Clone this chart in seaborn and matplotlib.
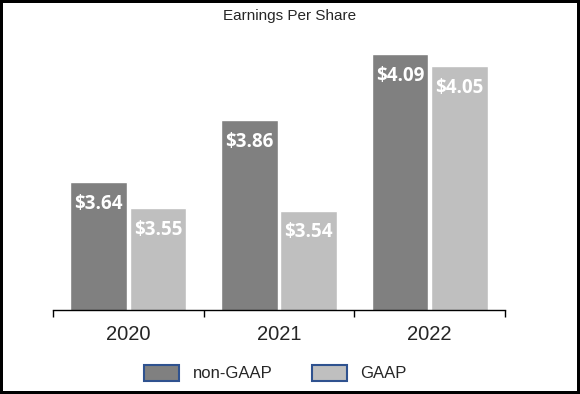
import matplotlib
matplotlib.use("Agg")
import matplotlib.pyplot as plt
import seaborn as sns
import pandas as pd
from matplotlib.patches import Patch

years = ["2020", "2021", "2022"]
series = ["non-GAAP", "GAAP"]
non_gaap = [3.64, 3.86, 4.09]
gaap = [3.55, 3.54, 4.05]
labels_non_gaap = ["$3.64", "$3.86", "$4.09"]
labels_gaap = ["$3.55", "$3.54", "$4.05"]

df = pd.DataFrame({
    "year": years * 2,
    "series": [series[0]] * 3 + [series[1]] * 3,
    "value": non_gaap + gaap,
})

sns.set_style("white")
plt.rcParams["font.family"] = ["Liberation Sans", "DejaVu Sans"]

colors = {"non-GAAP": "#808080", "GAAP": "#BFBFBF"}

fig = plt.figure(figsize=(5.8, 3.94), dpi=100)
fig.patch.set_edgecolor("black")
fig.patch.set_linewidth(4)
ax = fig.add_axes([53 / 580, 1 - 310 / 394, (505 - 53) / 580, 284 / 394])

sns.barplot(data=df, x="year", y="value", hue="series", order=years,
            hue_order=series, palette=colors, width=0.79, gap=0.05,
            legend=False, ax=ax, saturation=1)

ax.set_ylim(3.19, 4.19)
ax.set_xlim(-0.5, 2.5)
ax.set_xlabel("")
ax.set_ylabel("")
ax.set_yticks([])
for s in ["left", "right", "top"]:
    ax.spines[s].set_visible(False)
ax.spines["bottom"].set_color("black")
ax.spines["bottom"].set_linewidth(1)
ax.tick_params(axis="x", which="major", length=0, labelsize=14.5, pad=11)
ax.set_xticks([-0.5, 0.5, 1.5, 2.5], minor=True)
ax.tick_params(axis="x", which="minor", bottom=True, length=5, width=1,
               color="black", direction="out")

all_labels = [labels_non_gaap, labels_gaap]
for container, labs in zip(ax.containers, all_labels):
    for bar, lab in zip(container, labs):
        ax.annotate(lab, (bar.get_x() + bar.get_width() / 2, bar.get_height()),
                    xytext=(0, -8.5), textcoords="offset points",
                    ha="center", va="top", color="white", fontsize=13.5,
                    fontweight="bold", family=["Open Sans", "DejaVu Sans"])

fig.text(0.5, 1 - 16 / 394, "Earnings Per Share", ha="center", va="center", fontsize=11)

handles = [Patch(facecolor=colors[s], edgecolor="#2F528F", linewidth=1.5, label=s) for s in series]
fig.legend(handles=handles, loc="center", bbox_to_anchor=(0.475, 1 - 373 / 394),
           ncol=2, frameon=False, fontsize=12, handlelength=2.1, handleheight=1.1,
           columnspacing=2.4, handletextpad=0.8)

fig.savefig("out.png", dpi=100)
